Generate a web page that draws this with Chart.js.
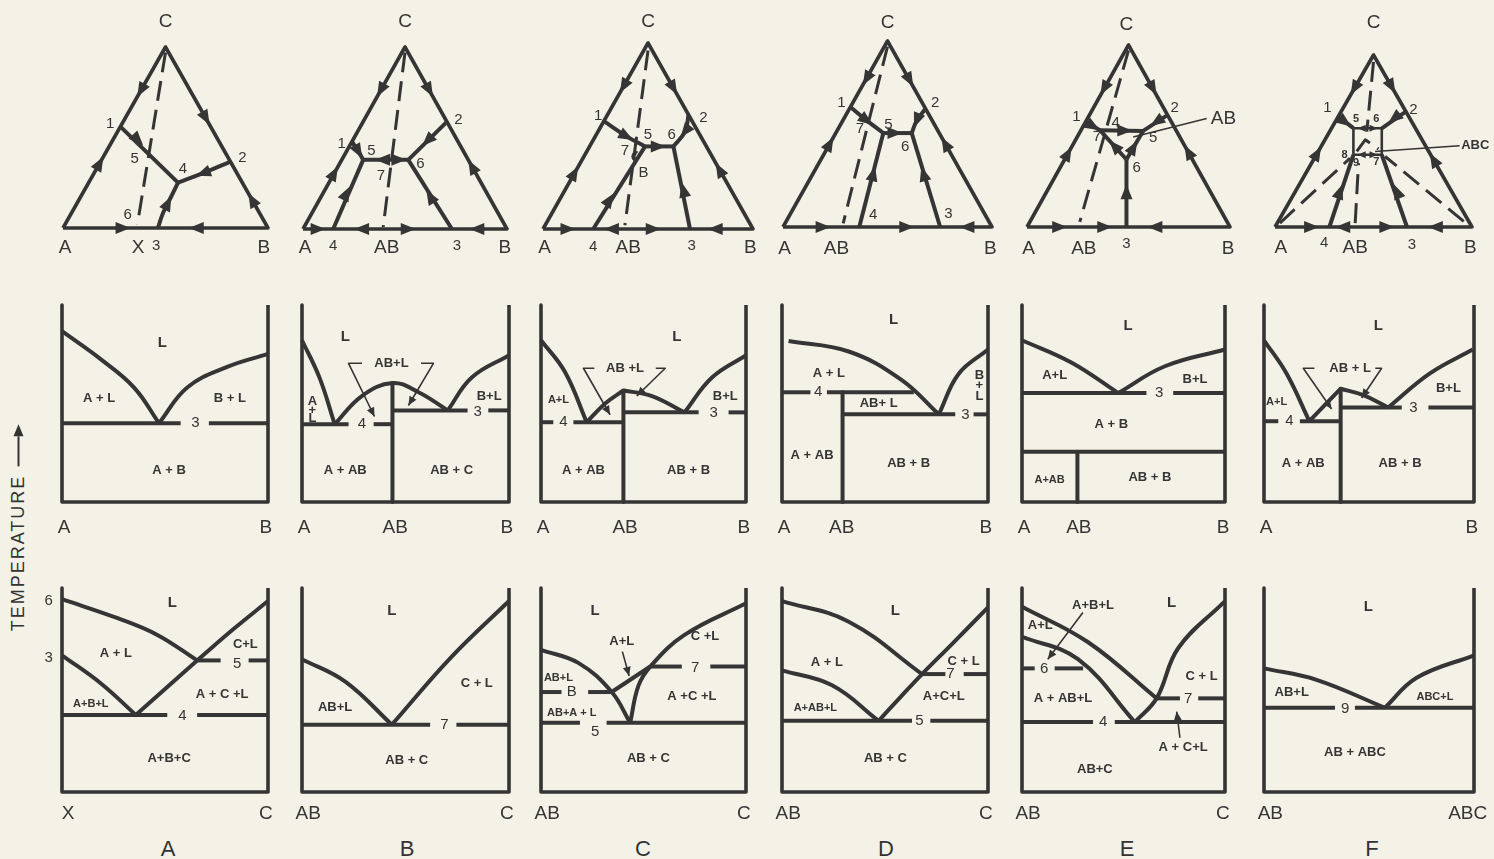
<!DOCTYPE html>
<html>
<head>
<meta charset="utf-8">
<script src="https://cdn.jsdelivr.net/npm/chart.js@4.4.1/dist/chart.umd.min.js"></script>
<style>
  html, body { margin:0; padding:0; background:#f4f2e6; width:1494px; height:859px; overflow:hidden; position:relative; }
  canvas { position:absolute; }
  .col { position:absolute; top:836px; width:40px; margin-left:-20px; text-align:center; font:22px "Liberation Sans", sans-serif; color:#333; }
  #temp { position:absolute; left:18px; top:528px; transform:translate(-50%,-50%) rotate(-90deg); white-space:nowrap;
          font:18px "Liberation Sans", sans-serif; letter-spacing:2px; color:#333; display:flex; align-items:center; }
  #temp .shaft { display:inline-block; width:30px; height:2px; background:#333; margin-left:8px; }
  #temp .head { display:inline-block; width:0; height:0; border-left:12px solid #333; border-top:5px solid transparent; border-bottom:5px solid transparent; }
</style>
</head>
<body>
<div id="temp">TEMPERATURE<span class="shaft"></span><span class="head"></span></div>
<div class="col" style="left:168px">A</div>
<div class="col" style="left:407px">B</div>
<div class="col" style="left:643px">C</div>
<div class="col" style="left:886px">D</div>
<div class="col" style="left:1127px">E</div>
<div class="col" style="left:1372px">F</div>
<script>
// ---------- shared shapes (composition / temperature units) ----------
const triangleOutline = [[0,0],[1,0],[0.5,1],[0,0]];
const binaryFrame = [[0,1],[0,0],[1,0],[1,1]];

// ---------- ternary diagrams (A=(0,0), B=(1,0), C=(0.5,1)) ----------
// A
const ternA_lines  = [[[0.28,0.56],[0.561,0.251]]];
const ternA_curves = [[[0.817,0.367],[0.683,0.303],[0.561,0.251]],
                      [[0.463,0],[0.488,0.083],[0.528,0.174],[0.561,0.251]]];
const ternA_joins  = [[[0.5,0.97],[0.363,0.02]]];
const ternA_arrows = [[0.38,0.76,0.28,0.56],[0.179,0.358,0.28,0.56],[0.697,0.606,0.817,0.367],[0.922,0.156,0.817,0.367],
                      [0.293,0,0.463,0],[0.65,0,0.463,0],[0.366,0.486,0.561,0.251],[0.683,0.303,0.561,0.251],[0.512,0.138,0.561,0.251]];
const ternA_text   = [["C",0.5,1.14,"big"],["1",0.23,0.575,"num"],["2",0.875,0.385,"num"],["4",0.585,0.325,"num"],["5",0.35,0.38,"num"],
                      ["6",0.315,0.07,"num"],["A",0.01,-0.11,"big"],["X",0.366,-0.11,"big"],["3",0.455,-0.1,"num"],["B",0.98,-0.11,"big"]];
// B
const ternB_lines  = [[[0.148,0],[0.295,0.38]],[[0.295,0.38],[0.516,0.38]],[[0.73,0],[0.516,0.38]],[[0.705,0.589],[0.516,0.38]]];
const ternB_curves = [[[0.24,0.48],[0.272,0.425],[0.295,0.38]]];
const ternB_joins  = [[[0.5,0.97],[0.393,0.01]]];
const ternB_arrows = [[0.381,0.763,0.24,0.48],[0.153,0.307,0.24,0.48],[0.619,0.763,0.705,0.589],[0.828,0.343,0.705,0.589],
                      [0.074,0,0.148,0],[0.287,0,0.148,0],[0.516,0,0.73,0],[0.852,0,0.73,0],
                      [0.272,0.425,0.295,0.38],[0.213,0.197,0.295,0.38],[0.61,0.485,0.516,0.38],[0.623,0.179,0.516,0.38],
                      [0.39,0.38,0.295,0.38],[0.47,0.38,0.516,0.38]];
const ternB_text   = [["C",0.5,1.137,"big"],["1",0.19,0.47,"num"],["5",0.335,0.43,"num"],["7",0.382,0.29,"num"],["6",0.575,0.36,"num"],
                      ["2",0.762,0.6,"num"],["A",0.01,-0.104,"big"],["4",0.148,-0.095,"num"],["AB",0.41,-0.104,"big"],["3",0.754,-0.09,"num"],["B",0.99,-0.104,"big"]];
// C
const ternC_lines  = [[[0.486,0.444],[0.621,0.444]],[[0.621,0.444],[0.70,0]],[[0.486,0.444],[0.239,0]]];
const ternC_curves = [[[0.29,0.58],[0.398,0.498],[0.486,0.444]],[[0.693,0.615],[0.677,0.525],[0.621,0.444]],
                      [[0.445,0.42],[0.43,0.39],[0.445,0.362]]];
const ternC_joins  = [[[0.5,0.96],[0.39,0.02]]];
const ternC_arrows = [[0.384,0.767,0.29,0.58],[0.15,0.301,0.29,0.58],[0.621,0.758,0.693,0.615],[0.84,0.319,0.693,0.615],
                      [0.119,0,0.239,0],[0.326,0,0.239,0],[0.525,0,0.70,0],[0.82,0,0.70,0],
                      [0.398,0.498,0.486,0.444],[0.549,0.444,0.621,0.444],[0.677,0.525,0.621,0.444],[0.669,0.211,0.621,0.444],[0.318,0.158,0.486,0.444]];
const ternC_text   = [["C",0.5,1.113,"big"],["1",0.263,0.606,"num"],["2",0.764,0.595,"num"],["5",0.5,0.505,"num"],["6",0.613,0.505,"num"],
                      ["7",0.39,0.418,"num"],["B",0.478,0.301,"num"],["A",0.008,-0.102,"big"],["4",0.239,-0.097,"num"],["AB",0.406,-0.102,"big"],
                      ["3",0.708,-0.093,"num"],["B",0.987,-0.102,"big"]];
// D
const ternD_lines  = [[[0.48,0.505],[0.616,0.505]],[[0.365,0],[0.48,0.505]],[[0.752,0],[0.616,0.505]]];
const ternD_curves = [[[0.3225,0.645],[0.4,0.573],[0.48,0.505]],[[0.682,0.636],[0.64,0.573],[0.616,0.505]]];
const ternD_joins  = [[[0.5,0.97],[0.288,0.02]]];
const ternD_arrows = [[0.4,0.797,0.3225,0.645],[0.224,0.448,0.3225,0.645],[0.606,0.789,0.682,0.636],[0.776,0.448,0.682,0.636],
                      [0.192,0,0.365,0],[0.592,0,0.752,0],[0.88,0,0.752,0],
                      [0.4,0.573,0.48,0.505],[0.536,0.505,0.616,0.505],[0.64,0.573,0.616,0.505],[0.432,0.287,0.48,0.505],[0.672,0.287,0.616,0.505]];
const ternD_text   = [["C",0.5,1.10,"big"],["1",0.28,0.665,"num"],["7",0.368,0.529,"num"],["5",0.504,0.55,"num"],["6",0.584,0.43,"num"],
                      ["2",0.728,0.665,"num"],["4",0.432,0.063,"num"],["3",0.792,0.072,"num"],["A",0.008,-0.116,"big"],["AB",0.256,-0.116,"big"],["B",0.992,-0.116,"big"]];
// E
const ternE_lines  = [[[0.289,0.578],[0.359,0.532]],[[0.359,0.532],[0.572,0.528]],[[0.359,0.532],[0.49,0.371]],
                      [[0.572,0.528],[0.49,0.371]],[[0.692,0.615],[0.572,0.528]],[[0.49,0],[0.49,0.371]]];
const ternE_curves = [];
const ternE_joins  = [[[0.5,0.97],[0.26,0.028]]];
const ternE_leaders = [[[0.523,0.495],[0.885,0.596]]];
const ternE_arrows = [[0.38,0.761,0.289,0.578],[0.202,0.404,0.289,0.578],[0.62,0.761,0.692,0.615],[0.794,0.413,0.692,0.615],
                      [0.161,0,0.49,0],[0.383,0,0.49,0],[0.63,0,0.49,0],
                      [0.327,0.553,0.359,0.532],[0.482,0.53,0.572,0.528],[0.638,0.578,0.572,0.528],
                      [0.43,0.445,0.359,0.532],[0.525,0.438,0.572,0.528],[0.49,0.193,0.49,0.371]];
const ternE_text   = [["C",0.49,1.11,"big"],["1",0.243,0.606,"num"],["2",0.728,0.655,"num"],["4",0.437,0.573,"num"],["7",0.345,0.495,"num"],
                      ["5",0.622,0.492,"num"],["6",0.54,0.323,"num"],["AB",0.905,0.596,"big","left"],["A",0.008,-0.12,"big"],["AB",0.28,-0.12,"big"],
                      ["3",0.49,-0.092,"num"],["B",0.99,-0.12,"big"]];
// F
const ternF_lines  = [[[0.276,0],[0.398,0.42]],[[0.67,0],[0.542,0.42]],[[0.664,0.671],[0.542,0.574]]];
const ternF_curves = [[[0.315,0.63],[0.356,0.61],[0.398,0.574]]];
const ternF_square = [[[0.398,0.574],[0.542,0.574],[0.542,0.42],[0.398,0.42],[0.398,0.574]]];
const ternF_joins  = [[[0.5,0.96],[0.466,0.555]],[[0.025,0.023],[0.381,0.4]],[[0.958,0.033],[0.559,0.41]],[[0.407,0.023],[0.424,0.371]],
                      [[0.415,0.44],[0.458,0.507],[0.525,0.453]]];
const ternF_leaders = [[[0.508,0.439],[0.937,0.472]]];
const ternF_arrows = [[0.403,0.807,0.315,0.63],[0.215,0.429,0.315,0.63],[0.592,0.816,0.664,0.671],[0.805,0.391,0.664,0.671],
                      [0.186,0,0.276,0],[0.344,0,0.276,0],[0.568,0,0.67,0],[0.814,0,0.67,0],
                      [0.356,0.61,0.398,0.574],[0.605,0.632,0.542,0.574],[0.33,0.207,0.398,0.42],[0.619,0.207,0.542,0.42]];
const ternF_small  = [[0.44,0.574,0.398,0.574],[0.5,0.574,0.542,0.574],[0.44,0.42,0.398,0.42],[0.5,0.42,0.542,0.42]];
const ternF_text   = [["C",0.5,1.19,"big"],["1",0.266,0.692,"num"],["2",0.703,0.681,"num"],["5",0.412,0.627,"sm"],["6",0.514,0.627,"sm"],
                      ["8",0.353,0.416,"sm"],["9",0.412,0.373,"sm"],["7",0.514,0.377,"sm"],["ABC",0.945,0.472,"reg","left"],
                      ["A",0.029,-0.122,"big"],["4",0.249,-0.093,"num"],["AB",0.407,-0.122,"big"],["3",0.695,-0.103,"num"],["B",0.992,-0.122,"big"]];

// ---------- A–B edge binaries (x = composition, y = temperature, both 0..1) ----------
const abA_curves = [[[0,0.867],[0.189,0.724],[0.35,0.581],[0.471,0.40]],[[0.471,0.40],[0.608,0.581],[0.802,0.686],[1,0.752]]];
const abA_lines  = [[[0,0.40],[0.576,0.40]],[[0.713,0.40],[1,0.40]]];
const abA_text   = [["L",0.487,0.81,"L"],["A + L",0.18,0.524],["B + L",0.815,0.524],["3",0.648,0.40,"num"],["A + B",0.52,0.162],
                    ["A",0.01,-0.132,"big"],["B",0.99,-0.132,"big"]];

const abB_curves = [[[0,0.821],[0.085,0.63],[0.158,0.395]],[[0.158,0.395],[0.289,0.538],[0.437,0.604],[0.563,0.557],[0.704,0.465]],
                    [[0.704,0.465],[0.82,0.632],[1,0.745]]];
const abB_lines  = [[[0.437,0.604],[0.437,0]],[[0,0.395],[0.225,0.395]],[[0.346,0.395],[0.437,0.395]],
                    [[0.437,0.465],[0.80,0.465]],[[0.9,0.465],[1,0.465]]];
const abB_leaders = [[[0.29,0.704],[0.225,0.704],[0.35,0.434]],[[0.575,0.704],[0.635,0.704],[0.514,0.49]]];
const abB_text   = [["L",0.209,0.84,"L"],["AB+L",0.432,0.704],["A",0.05,0.51],["+",0.05,0.465],["L",0.05,0.425],
                    ["4",0.289,0.395,"num"],["B+L",0.904,0.538],["3",0.849,0.458,"num"],["A + AB",0.209,0.16],["AB + C",0.723,0.16],
                    ["A",0.01,-0.132,"big"],["AB",0.45,-0.132,"big"],["B",0.99,-0.132,"big"]];

const abC_curves = [[[0,0.821],[0.117,0.66],[0.223,0.405]],[[0.223,0.405],[0.313,0.5],[0.402,0.566]],
                    [[0.402,0.566],[0.541,0.538],[0.70,0.455]],[[0.70,0.455],[0.834,0.632],[1,0.745]]];
const abC_lines  = [[[0.402,0.566],[0.402,0]],[[0,0.405],[0.06,0.405]],[[0.158,0.405],[0.402,0.405]],
                    [[0.402,0.455],[0.769,0.455]],[[0.915,0.455],[1,0.455]]];
const abC_leaders = [[[0.26,0.679],[0.207,0.679],[0.337,0.443]],[[0.56,0.679],[0.606,0.679],[0.467,0.538]]];
const abC_text   = [["L",0.663,0.84,"L"],["AB +L",0.41,0.679],["A+L",0.085,0.52,"sm"],["4",0.109,0.405,"num"],["B+L",0.899,0.538],
                    ["3",0.842,0.455,"num"],["A + AB",0.207,0.16],["AB + B",0.72,0.16],
                    ["A",0.01,-0.132,"big"],["AB",0.41,-0.132,"big"],["B",0.99,-0.132,"big"]];

const abD_curves = [[[0.032,0.817],[0.324,0.764],[0.58,0.62],[0.761,0.445]],[[0.761,0.445],[0.858,0.651],[1,0.774]]];
const abD_lines  = [[[0,0.557],[0.138,0.557]],[[0.218,0.557],[0.64,0.557]],[[0.294,0.557],[0.294,0]],
                    [[0.294,0.445],[0.841,0.445]],[[0.93,0.445],[1,0.445]]];
const abD_text   = [["L",0.542,0.925,"L"],["A + L",0.227,0.651],["4",0.175,0.557,"num"],["AB+ L",0.469,0.5],
                    ["B",0.958,0.645],["+",0.958,0.59],["L",0.958,0.535],["3",0.89,0.44,"num"],
                    ["A + AB",0.146,0.236],["AB + B",0.615,0.198],
                    ["A",0.01,-0.132,"big"],["AB",0.29,-0.132,"big"],["B",0.99,-0.132,"big"]];

const abE_curves = [[[0,0.821],[0.243,0.708],[0.474,0.553]],[[0.474,0.553],[0.704,0.689],[1,0.774]]];
const abE_lines  = [[[0,0.553],[0.613,0.553]],[[0.745,0.553],[1,0.553]],[[0,0.255],[1,0.255]],[[0.273,0.255],[0.273,0]]];
const abE_text   = [["L",0.523,0.896,"L"],["A+L",0.161,0.642],["B+L",0.852,0.623],["3",0.676,0.553,"num"],["A + B",0.44,0.396],
                    ["A+AB",0.136,0.113,"sm"],["AB + B",0.63,0.123],
                    ["A",0.01,-0.132,"big"],["AB",0.28,-0.132,"big"],["B",0.99,-0.132,"big"]];

const abF_curves = [[[0,0.821],[0.108,0.651],[0.216,0.41]],[[0.216,0.41],[0.365,0.575]],
                    [[0.365,0.575],[0.473,0.542],[0.592,0.48]],[[0.592,0.48],[0.79,0.653],[0.994,0.774]]];
const abF_lines  = [[[0.365,0.575],[0.365,0]],[[0,0.41],[0.068,0.41]],[[0.171,0.41],[0.365,0.41]],
                    [[0.365,0.48],[0.656,0.48]],[[0.783,0.48],[1,0.48]]];
const abF_leaders = [[[0.24,0.679],[0.187,0.679],[0.322,0.472]],[[0.53,0.679],[0.56,0.679],[0.465,0.528]]];
const abF_text   = [["L",0.544,0.896,"L"],["AB + L",0.41,0.679],["A+L",0.06,0.509,"sm"],["4",0.121,0.41,"num"],["B+L",0.878,0.575],
                    ["3",0.711,0.48,"num"],["A + AB",0.187,0.198],["AB + B",0.648,0.198],
                    ["A",0.01,-0.132,"big"],["B",0.99,-0.132,"big"]];

// ---------- sections along the joins (x = composition, y = temperature) ----------
const joinA_curves = [[[0,0.945],[0.27,0.852],[0.463,0.77],[0.656,0.645]],[[0.656,0.645],[0.834,0.80],[1,0.936]],
                      [[0,0.67],[0.189,0.532],[0.358,0.378]]];
const joinA_lines  = [[[0.358,0.378],[0.656,0.645]],[[0.656,0.645],[0.77,0.645]],[[0.906,0.645],[1,0.645]],
                      [[0,0.378],[0.511,0.378]],[[0.656,0.378],[1,0.378]]];
const joinA_text   = [["6",-0.065,0.935,"num"],["3",-0.065,0.66,"num"],["L",0.535,0.927,"L"],["C+L",0.89,0.725],["A + L",0.261,0.679],
                      ["A+B+L",0.14,0.431,"sm"],["A + C +L",0.777,0.477],["5",0.85,0.63,"num"],["4",0.584,0.372,"num"],["A+B+C",0.52,0.165],
                      ["X",0.03,-0.108,"big"],["C",0.99,-0.108,"big"]];

const joinB_curves = [[[0,0.651],[0.209,0.541],[0.434,0.33]],[[0.434,0.33],[0.72,0.66],[1,0.936]]];
const joinB_lines  = [[[0,0.33],[0.619,0.33]],[[0.746,0.33],[1,0.33]]];
const joinB_text   = [["L",0.434,0.89,"L"],["AB+L",0.16,0.413],["C + L",0.844,0.532],["7",0.688,0.33,"num"],["AB + C",0.506,0.156],
                      ["AB",0.03,-0.108,"big"],["C",0.99,-0.108,"big"]];

const joinC_curves = [[[0,0.697],[0.182,0.633],[0.345,0.49],[0.435,0.339]],[[0.435,0.339],[0.475,0.52],[0.533,0.615],[0.7,0.77],[1,0.925]]];
const joinC_lines  = [[[0.345,0.49],[0.533,0.615]],[[0.533,0.615],[0.687,0.615]],[[0.826,0.615],[1,0.615]],
                      [[0,0.49],[0.1,0.49]],[[0.23,0.49],[0.345,0.49]],[[0,0.339],[0.19,0.339]],[[0.32,0.339],[1,0.339]]];
const joinC_leaders = [[[0.397,0.688],[0.43,0.569]]];
const joinC_text   = [["L",0.264,0.89,"L"],["A+L",0.394,0.74],["C +L",0.8,0.761],["7",0.752,0.61,"num"],["AB+L",0.085,0.56,"sm"],
                      ["B",0.15,0.49,"num"],["A +C +L",0.736,0.468],["AB+A + L",0.15,0.385,"sm"],["5",0.264,0.294,"num"],["AB + C",0.524,0.165],
                      ["AB",0.03,-0.108,"big"],["C",0.99,-0.108,"big"]];

const joinD_curves = [[[0,0.936],[0.324,0.835],[0.68,0.578]],[[0.469,0.349],[0.575,0.465],[0.68,0.578],[0.825,0.725],[1,0.905]],
                      [[0,0.596],[0.243,0.523],[0.469,0.349]]];
const joinD_lines  = [[[0.68,0.578],[0.793,0.578]],[[0.882,0.578],[1,0.578]],[[0,0.349],[0.631,0.349]],[[0.72,0.349],[1,0.349]]];
const joinD_text   = [["L",0.55,0.89,"L"],["A + L",0.218,0.633],["C + L",0.882,0.642],["7",0.817,0.578,"num"],["A+C+L",0.785,0.468],
                      ["A+AB+L",0.162,0.413,"sm"],["5",0.667,0.349,"num"],["AB + C",0.502,0.165],
                      ["AB",0.03,-0.108,"big"],["C",0.99,-0.108,"big"]];

const joinE_curves = [[[0,0.908],[0.326,0.734],[0.663,0.459]],[[0,0.761],[0.276,0.651],[0.556,0.343]],
                      [[0.556,0.343],[0.663,0.459],[0.77,0.706],[1,0.936]]];
const joinE_lines  = [[[0,0.606],[0.0625,0.606]],[[0.161,0.606],[0.301,0.606]],[[0.663,0.459],[0.778,0.459]],[[0.868,0.459],[1,0.459]],
                      [[0,0.343],[0.35,0.343]],[[0.457,0.343],[1,0.343]]];
const joinE_leaders = [[[0.3,0.88],[0.127,0.651]],[[0.778,0.266],[0.762,0.394]]];
const joinE_text   = [["L",0.737,0.927,"L"],["A+B+L",0.35,0.917],["A+L",0.09,0.818],["6",0.109,0.606,"num"],["C + L",0.885,0.569],
                      ["A + AB+L",0.202,0.459],["7",0.819,0.459,"num"],["4",0.4,0.343,"num"],["A + C+L",0.794,0.22],["AB+C",0.359,0.11],
                      ["AB",0.03,-0.108,"big"],["C",0.99,-0.108,"big"]];

const joinF_curves = [[[0,0.606],[0.25,0.55],[0.576,0.413]],[[0.576,0.413],[0.727,0.56],[1,0.67]]];
const joinF_lines  = [[[0,0.413],[0.338,0.413]],[[0.433,0.413],[1,0.413]]];
const joinF_text   = [["L",0.497,0.908,"L"],["AB+L",0.132,0.486],["ABC+L",0.814,0.468,"sm"],["9",0.386,0.41,"num"],["AB + ABC",0.433,0.193],
                      ["AB",0.03,-0.108,"big"],["ABC",0.97,-0.108,"big"]];

// ---------- drawing ----------
const INK = '#353535';
const FONTS = {
  big: '19px "Liberation Sans", sans-serif',
  num: '15px "Liberation Sans", sans-serif',
  reg: 'bold 13px "Liberation Sans", sans-serif',
  sm:  'bold 11px "Liberation Sans", sans-serif',
  L:   'bold 15px "Liberation Sans", sans-serif'
};

function arrowhead(ctx, px, py, ang, len, half, tipAtPoint) {
  ctx.save();
  ctx.translate(px, py);
  ctx.rotate(ang);
  const front = tipAtPoint ? 0 : len / 2;
  ctx.beginPath();
  ctx.moveTo(front, 0);
  ctx.lineTo(front - len, half);
  ctx.lineTo(front - len, -half);
  ctx.closePath();
  ctx.fill();
  ctx.restore();
}

function marksPlugin(spec) {
  return {
    id: 'marks',
    afterDatasetsDraw(chart) {
      const ctx = chart.ctx, xs = chart.scales.x, ys = chart.scales.y;
      const P = (x, y) => [xs.getPixelForValue(x), ys.getPixelForValue(y)];
      ctx.save();
      ctx.fillStyle = INK;
      const dirArrows = (list, len, half) => (list || []).forEach(a => {
        const [px, py] = P(a[0], a[1]);
        const [qx, qy] = P(a[2], a[3]);
        arrowhead(ctx, px, py, Math.atan2(qy - py, qx - px), len, half, false);
      });
      dirArrows(spec.arrows, 15, 6);
      dirArrows(spec.small, 8, 3.5);
      (spec.pointers || []).forEach(line => {
        const n = line.length;
        const [px, py] = P(line[n - 1][0], line[n - 1][1]);
        const [qx, qy] = P(line[n - 2][0], line[n - 2][1]);
        arrowhead(ctx, px, py, Math.atan2(py - qy, px - qx), 9, 4, true);
      });
      ctx.textBaseline = 'middle';
      (spec.text || []).forEach(t => {
        const [px, py] = P(t[1], t[2]);
        ctx.font = FONTS[t[3] || 'reg'];
        ctx.textAlign = t[4] || 'center';
        ctx.fillText(t[0], px, py);
      });
      ctx.restore();
    }
  };
}

function panel(frame, spec) {
  const M = 48;
  const W = frame.x1 - frame.x0, H = frame.y1 - frame.y0;
  const cv = document.createElement('canvas');
  cv.width = W + 2 * M; cv.height = H + 2 * M;
  Object.assign(cv.style, { left: (frame.x0 - M) + 'px', top: (frame.y0 - M) + 'px',
                            width: (W + 2 * M) + 'px', height: (H + 2 * M) + 'px' });
  document.body.appendChild(cv);
  const datasets = [];
  const add = (pts, o) => datasets.push(Object.assign({
    data: pts.map(p => ({ x: p[0], y: p[1] })), showLine: true, pointRadius: 0, pointHoverRadius: 0,
    borderColor: INK, borderWidth: 4, tension: 0, clip: false, fill: false,
    borderCapStyle: 'butt', borderJoinStyle: 'round'
  }, o));
  (spec.outline || []).forEach(p => add(p, { borderWidth: 3.6 }));
  (spec.lines || []).forEach(p => add(p, {}));
  (spec.curves || []).forEach(p => add(p, { tension: 0.4 }));
  (spec.thin || []).forEach(p => add(p, { borderWidth: 2.6 }));
  (spec.joins || []).forEach(p => add(p, { borderWidth: 3, borderDash: [20, 9] }));
  (spec.leaders || []).forEach(p => add(p, { borderWidth: 1.6 }));
  (spec.pointers || []).forEach(p => add(p, { borderWidth: 1.6 }));
  new Chart(cv, {
    type: 'scatter',
    data: { datasets },
    options: {
      responsive: false, animation: false, devicePixelRatio: 1, events: [],
      layout: { padding: M },
      plugins: { legend: { display: false }, tooltip: { enabled: false }, title: { display: false } },
      scales: {
        x: { type: 'linear', min: 0, max: 1, display: false },
        y: { type: 'linear', min: 0, max: 1, display: false }
      }
    },
    plugins: [marksPlugin(spec)]
  });
}

// ---------- layout (page pixels) ----------
const ternFrames = {
  A: { x0: 63,   x1: 268,  y0: 47, y1: 228 },
  B: { x0: 303,  x1: 507,  y0: 47, y1: 229 },
  C: { x0: 543,  x1: 753,  y0: 43, y1: 229 },
  D: { x0: 783,  x1: 992,  y0: 41, y1: 227 },
  E: { x0: 1027, x1: 1230, y0: 45, y1: 227 },
  F: { x0: 1275, x1: 1472, y0: 55, y1: 227 }
};
const colSpan = { A: [62, 268], B: [302, 509], C: [541, 746], D: [782, 988], E: [1022, 1225], F: [1264, 1474] };
const row2 = [305, 502], row3 = [588, 792];
const bin = (c, r) => ({ x0: colSpan[c][0], x1: colSpan[c][1], y0: r[0], y1: r[1] });

panel(ternFrames.A, { outline: [triangleOutline], lines: ternA_lines, curves: ternA_curves, joins: ternA_joins, arrows: ternA_arrows, text: ternA_text });
panel(ternFrames.B, { outline: [triangleOutline], lines: ternB_lines, curves: ternB_curves, joins: ternB_joins, arrows: ternB_arrows, text: ternB_text });
panel(ternFrames.C, { outline: [triangleOutline], lines: ternC_lines, curves: ternC_curves, joins: ternC_joins, arrows: ternC_arrows, text: ternC_text });
panel(ternFrames.D, { outline: [triangleOutline], lines: ternD_lines, curves: ternD_curves, joins: ternD_joins, arrows: ternD_arrows, text: ternD_text });
panel(ternFrames.E, { outline: [triangleOutline], lines: ternE_lines, curves: ternE_curves, joins: ternE_joins, leaders: ternE_leaders, arrows: ternE_arrows, text: ternE_text });
panel(ternFrames.F, { outline: [triangleOutline], lines: ternF_lines, curves: ternF_curves, thin: ternF_square, joins: ternF_joins, leaders: ternF_leaders, arrows: ternF_arrows, small: ternF_small, text: ternF_text });

panel(bin('A', row2), { outline: [binaryFrame], lines: abA_lines, curves: abA_curves, text: abA_text });
panel(bin('B', row2), { outline: [binaryFrame], lines: abB_lines, curves: abB_curves, pointers: abB_leaders, text: abB_text });
panel(bin('C', row2), { outline: [binaryFrame], lines: abC_lines, curves: abC_curves, pointers: abC_leaders, text: abC_text });
panel(bin('D', row2), { outline: [binaryFrame], lines: abD_lines, curves: abD_curves, text: abD_text });
panel(bin('E', row2), { outline: [binaryFrame], lines: abE_lines, curves: abE_curves, text: abE_text });
panel(bin('F', row2), { outline: [binaryFrame], lines: abF_lines, curves: abF_curves, pointers: abF_leaders, text: abF_text });

panel(bin('A', row3), { outline: [binaryFrame], lines: joinA_lines, curves: joinA_curves, text: joinA_text });
panel(bin('B', row3), { outline: [binaryFrame], lines: joinB_lines, curves: joinB_curves, text: joinB_text });
panel(bin('C', row3), { outline: [binaryFrame], lines: joinC_lines, curves: joinC_curves, pointers: joinC_leaders, text: joinC_text });
panel(bin('D', row3), { outline: [binaryFrame], lines: joinD_lines, curves: joinD_curves, text: joinD_text });
panel(bin('E', row3), { outline: [binaryFrame], lines: joinE_lines, curves: joinE_curves, pointers: joinE_leaders, text: joinE_text });
panel(bin('F', row3), { outline: [binaryFrame], lines: joinF_lines, curves: joinF_curves, text: joinF_text });
</script>
</body>
</html>
